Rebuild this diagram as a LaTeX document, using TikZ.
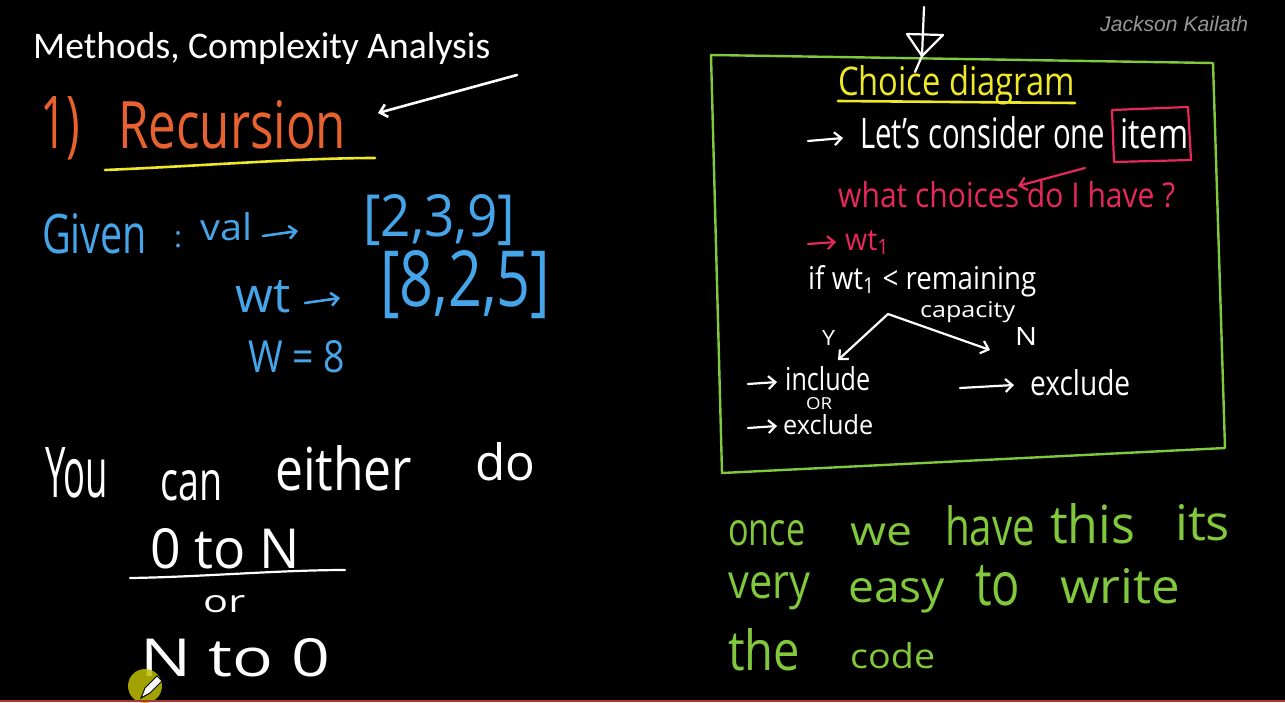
\documentclass[tikz,border=0pt]{standalone}
\usepackage{fontspec}
\setmainfont{Open Sans}
\newfontfamily\titlefont{Carlito}
\newfontfamily\markfont{Liberation Sans}
\usetikzlibrary{arrows.meta}
\definecolor{hworange}{RGB}{232,98,48}
\definecolor{hwyellow}{RGB}{238,232,40}
\definecolor{hwblue}{RGB}{70,165,232}
\definecolor{hwred}{RGB}{232,40,90}
\definecolor{hwgreen}{RGB}{130,200,60}
\definecolor{markgray}{RGB}{150,150,150}
\definecolor{cursorfill}{RGB}{190,190,0}
\definecolor{barred}{RGB}{170,55,55}
\newcommand\hw[3]{\resizebox{#1pt}{#2pt}{#3}}
\tikzset{
  hand/.style={inner sep=0pt, anchor=base west},
  stroke/.style={line width=2.6pt, line cap=round, line join=round},
  harrow/.style={stroke, -{Straight Barb[length=7pt,width=13pt]}},
}
\begin{document}
\begin{tikzpicture}[x=1pt,y=-1pt]
\fill[black] (0,0) rectangle (1285,702);
\useasboundingbox (0,0) rectangle (1285,702);

% title and watermark
\node[hand, text=white] (title) at (33,58) {\titlefont\resizebox{457pt}{!}{Methods, Complexity Analysis}};
\node[hand, text=markgray] (mark) at (1100,31) {\markfont\itshape\resizebox{148pt}{!}{Jackson Kailath}};

% 1) Recursion
\node[hand, text=hworange] (num) at (40,148) {\hw{40}{52}{1)}};
\node[hand, text=hworange] (rec) at (118,148) {\hw{228}{48}{Recursion}};
\coordinate (ulA) at (105,170);
\coordinate (ulB) at (375,158);
\draw[stroke, hwyellow] (ulA) .. controls (200,166) and (300,158) .. (ulB);
\coordinate (ptrA) at (517,75);
\coordinate (ptrB) at (378,113);
\draw[harrow, white] (ptrA) -- (ptrB);

% Given
\node[hand, text=hwblue] (given) at (42,253) {\hw{105}{40}{Given}};
\node[hand, text=hwblue] (colon) at (174,247) {\hw{8}{16}{:}};
\node[hand, text=hwblue] (val) at (200,240) {\hw{52}{28}{val}};
\coordinate (va1) at (263,236);
\coordinate (va2) at (298,231);
\draw[harrow, hwblue] (va1) -- (va2);
\node[hand, text=hwblue] (vals) at (363,236) {\hw{152}{42}{[2,3,9]}};
\node[hand, text=hwblue] (wt) at (235,312) {\hw{55}{32}{wt}};
\coordinate (wa1) at (305,303);
\coordinate (wa2) at (340,298);
\draw[harrow, hwblue] (wa1) -- (wa2);
\node[hand, text=hwblue] (wts) at (380,306) {\hw{170}{56}{[8,2,5]}};
\node[hand, text=hwblue] (cap) at (248,372) {\hw{97}{32}{W = 8}};

% You can either do
\node[hand, text=white] (you) at (45,497) {\hw{63}{50}{You}};
\node[hand, text=white] (can) at (160,500) {\hw{62}{30}{can}};
\node[hand, text=white] (either) at (275,490) {\hw{137}{45}{either}};
\node[hand, text=white] (do) at (475,480) {\hw{60}{38}{do}};
\node[hand, text=white] (otn) at (150,568) {\hw{150}{40}{0 to N}};
\coordinate (frA) at (130,578);
\coordinate (frB) at (345,570);
\draw[stroke, white, line width=2.2pt] (frA) .. controls (200,577) and (280,570) .. (frB);
\node[hand, text=white] (or) at (203,612) {\hw{42}{17}{or}};
\node[hand, text=white] (nto) at (140,676) {\hw{190}{38}{N to 0}};

% cursor
\fill[cursorfill, opacity=0.85] (145,686) circle (17);
\filldraw[fill=white, draw=black, line width=1pt] (141,698) -- (145,688) -- (157,676) -- (162,681) -- (150,693) -- cycle;

% progress bar
\draw[barred, line width=2pt] (0,700.5) -- (1285,700.5);

% choice diagram box
\coordinate (bTL) at (711,55);
\coordinate (bTR) at (1213,63);
\coordinate (bBR) at (1225,448);
\coordinate (bBL) at (722,473);
\draw[stroke, hwgreen, line width=2.4pt] (bTL) -- (bTR) -- (bBR) -- (bBL) -- cycle;
\coordinate (dnA) at (924,7);
\coordinate (dnB) at (922,56);
\draw[stroke, white, line width=2.2pt] (dnA) -- (dnB);
\draw[stroke, white, line width=2.2pt] (907,34) -- (943,35) -- (dnB) -- cycle;
\draw[stroke, white, line width=2.2pt] (dnB) -- (915,72);

\node[hand, text=hwyellow] (choice) at (838,95) {\hw{237}{30}{Choice diagram}};
\coordinate (cuA) at (838,101);
\coordinate (cuB) at (1075,103);
\draw[stroke, hwyellow] (cuA) -- (cuB);

\coordinate (la1) at (808,141);
\coordinate (la2) at (843,138);
\draw[harrow, white, line width=2.2pt] (la1) -- (la2);
\node[hand, text=white] (lets) at (860,148) {\hw{245}{32}{Let's consider one}};
\node[hand, text=white] (item) at (1120,148) {\hw{68}{30}{item}};
\draw[stroke, hwred, line width=2.2pt] (1112,110) -- (1188,107) -- (1191,160) -- (1114,162) -- cycle;
\coordinate (ra1) at (1085,168);
\coordinate (ra2) at (1018,186);
\draw[harrow, hwred, line width=2.2pt] (ra1) -- (ra2);
\node[hand, text=hwred] (what) at (838,207) {\hw{337}{26}{what choices do I have ?}};
\coordinate (wr1) at (808,244);
\coordinate (wr2) at (836,242);
\draw[harrow, hwred, line width=2.2pt] (wr1) -- (wr2);
\node[hand, text=hwred] (wt1) at (845,250) {\hw{45}{20}{wt\textsubscript{1}}};
\node[hand, text=white] (ifl) at (808,289) {\hw{228}{24}{if wt\textsubscript{1} < remaining}};
\node[hand, text=white] (capa) at (920,317) {\hw{95}{16}{capacity}};
\coordinate (fork) at (888,314);
\coordinate (yes) at (838,360);
\coordinate (no) at (990,350);
\draw[harrow, white, line width=2.2pt] (fork) -- (yes);
\draw[harrow, white, line width=2.2pt] (fork) -- (no);
\node[hand, text=white] (ylab) at (822,345) {\hw{13}{15}{Y}};
\node[hand, text=white] (nlab) at (1015,345) {\hw{22}{18}{N}};
\coordinate (ia1) at (748,384);
\coordinate (ia2) at (777,382);
\draw[harrow, white, line width=2.2pt] (ia1) -- (ia2);
\node[hand, text=white] (incl) at (785,390) {\hw{85}{24}{include}};
\node[hand, text=white] (orb) at (806,409) {\hw{26}{12}{OR}};
\coordinate (ea1) at (748,428);
\coordinate (ea2) at (777,426);
\draw[harrow, white, line width=2.2pt] (ea1) -- (ea2);
\node[hand, text=white] (excl) at (783,434) {\hw{90}{20}{exclude}};
\coordinate (xa1) at (960,388);
\coordinate (xa2) at (1014,385);
\draw[harrow, white, line width=2.2pt] (xa1) -- (xa2);
\node[hand, text=white] (excl2) at (1030,395) {\hw{100}{26}{exclude}};

% green note
\node[hand, text=hwgreen] (g1) at (728,545) {\hw{77}{25}{once}};
\node[hand, text=hwgreen] (g2) at (850,545) {\hw{62}{22}{we}};
\node[hand, text=hwgreen] (g3) at (945,545) {\hw{90}{40}{have}};
\node[hand, text=hwgreen] (g4) at (1050,543) {\hw{85}{40}{this}};
\node[hand, text=hwgreen] (g5) at (1175,540) {\hw{55}{36}{its}};
\node[hand, text=hwgreen] (g6) at (728,598) {\hw{82}{26}{very}};
\node[hand, text=hwgreen] (g7) at (848,602) {\hw{97}{24}{easy}};
\node[hand, text=hwgreen] (g8) at (975,605) {\hw{45}{40}{to}};
\node[hand, text=hwgreen] (g9) at (1060,603) {\hw{120}{35}{write}};
\node[hand, text=hwgreen] (g10) at (728,670) {\hw{72}{42}{the}};
\node[hand, text=hwgreen] (g11) at (850,668) {\hw{85}{26}{code}};
\end{tikzpicture}
\end{document}
